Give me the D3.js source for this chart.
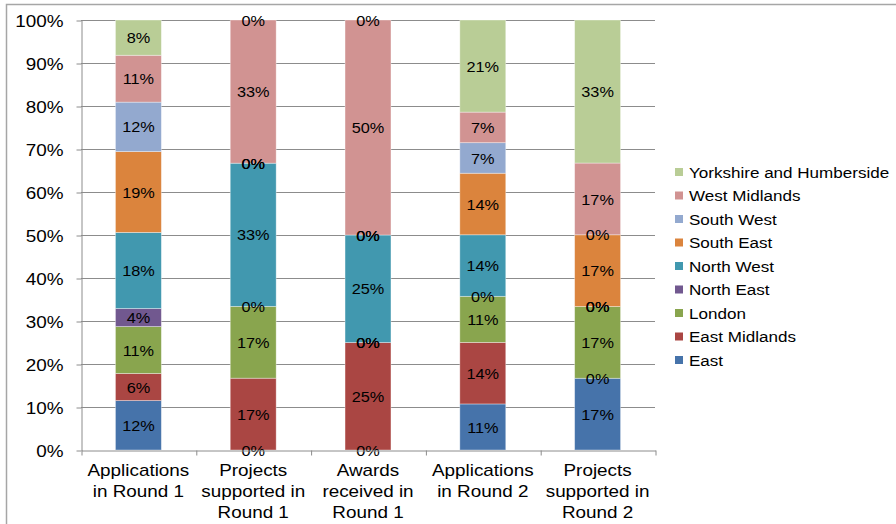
<!DOCTYPE html>
<html>
<head>
<meta charset="utf-8">
<script src="https://cdn.jsdelivr.net/npm/d3@7"></script>
<style>
  html, body { margin: 0; padding: 0; background: #fff; }
  svg { display: block; font-family: "Liberation Sans", Arial, sans-serif; }
</style>
</head>
<body>
<svg id="chart" width="896" height="524"></svg>
<script>
// Categories (multi-line axis labels)
const categories = [
  ["Applications", "in Round 1"],
  ["Projects", "supported in", "Round 1"],
  ["Awards", "received in", "Round 1"],
  ["Applications", "in Round 2"],
  ["Projects", "supported in", "Round 2"]
];

// Share of each category by region, in percent
const regions = ["East", "East Midlands", "London", "North East", "North West",
                 "South East", "South West", "West Midlands", "Yorkshire and Humberside"];
const east          = [11.5, 0,    0,  10.7, 16.7];
const eastMidlands  = [6.3,  16.7, 25, 14.3, 0];
const london        = [10.9, 16.7, 0,  10.7, 16.7];
const northEast     = [4.2,  0,    0,  0,    0];
const northWest     = [17.7, 33.3, 25, 14.3, 0];
const southEast     = [18.8, 0,    0,  14.3, 16.7];
const southWest     = [11.5, 0,    0,  7.1,  0];
const westMidlands  = [10.9, 33.3, 50, 7.1,  16.7];
const yorkshire     = [8.2,  0,    0,  21.4, 33.3];
const seriesValues = [east, eastMidlands, london, northEast, northWest,
                      southEast, southWest, westMidlands, yorkshire];

const yTicks = d3.range(0, 11).map(i => i / 10);

const colors = ["#4673aa", "#aa4643", "#89a54e", "#71588f", "#4198af",
                "#db843d", "#93a9cf", "#d19392", "#b9cd96"];

// Table for d3.stack
const rows = categories.map((c, i) => {
  const r = { idx: i };
  regions.forEach((name, k) => { r[name] = seriesValues[k][i]; });
  return r;
});

const svg = d3.select("#chart");
const W = 896, H = 524;
const plot = { left: 81, right: 655, top: 20, bottom: 450 };

svg.append("rect").attr("width", W).attr("height", H).attr("fill", "#fff");
// outer frame
svg.append("rect")
  .attr("x", 6.5).attr("y", 4.5).attr("width", W + 10).attr("height", H + 10)
  .attr("fill", "none").attr("stroke", "#a6a6a6").attr("stroke-width", 1.5);

const x = d3.scaleBand().domain(d3.range(categories.length))
  .range([plot.left, plot.right]).paddingInner(0.6).paddingOuter(0.3);
const xEdges = d3.scaleLinear().domain([0, categories.length]).range([plot.left, plot.right]);
const y = d3.scaleLinear().domain([0, 1]).range([plot.bottom, plot.top]);

// gridlines
svg.append("g").selectAll("line").data(yTicks.slice(1)).join("line")
  .attr("x1", plot.left).attr("x2", plot.right)
  .attr("y1", d => y(d) + 0.5).attr("y2", d => y(d) + 0.5)
  .attr("stroke", "#8c8c8c").attr("stroke-width", 1);

// y axis
const yAxis = svg.append("g").attr("transform", `translate(${plot.left + 0.5},0.5)`)
  .call(d3.axisLeft(y).tickValues(yTicks).tickFormat(d3.format(".0%")).tickSize(5).tickSizeOuter(0));
yAxis.select(".domain").attr("stroke", "#8c8c8c");
yAxis.selectAll(".tick line").attr("stroke", "#8c8c8c");
yAxis.selectAll(".tick text")
  .attr("x", 0).attr("dy", "0.36em")
  .attr("transform", "translate(-18,0) scale(1.18,1)")
  .attr("font-size", 16).attr("fill", "#000")
  .attr("font-family", "'Liberation Sans', Arial, sans-serif");

// stacked bars
const stack = d3.stack().keys(regions).offset(d3.stackOffsetExpand);
const layers = stack(rows);

const gBars = svg.append("g");
layers.forEach((layer, k) => {
  gBars.append("g").attr("fill", colors[k])
    .selectAll("rect").data(layer).join("rect")
    .attr("x", (d, i) => x(i))
    .attr("width", x.bandwidth())
    .attr("y", d => y(d[1]))
    .attr("height", d => y(d[0]) - y(d[1]))
    .attr("stroke", "rgba(255,255,255,0.45)").attr("stroke-width", 0.8);
});

// data labels
const gLabels = svg.append("g");
layers.forEach((layer, k) => {
  gLabels.append("g").selectAll("text").data(layer).join("text")
    .attr("transform", (d, i) =>
      `translate(${x(i) + x.bandwidth() / 2},${y((d[0] + d[1]) / 2)}) scale(1.05,1)`)
    .attr("text-anchor", "middle").attr("dy", "0.36em")
    .attr("font-size", 15.5).attr("fill", "#000")
    .text((d, i) => Math.round(seriesValues[k][i]) + "%");
});

// x axis line and boundary ticks
const xTickAxis = svg.append("g").attr("transform", `translate(0.5,${plot.bottom + 0.5})`)
  .call(d3.axisBottom(xEdges).ticks(categories.length).tickSize(5).tickSizeOuter(0).tickFormat(""));
xTickAxis.select(".domain").attr("stroke", "#8c8c8c");
xTickAxis.selectAll(".tick line").attr("stroke", "#8c8c8c");

// category labels
const xLabelAxis = svg.append("g").attr("transform", `translate(0,${plot.bottom})`)
  .call(d3.axisBottom(x).tickSize(0).tickFormat(""));
xLabelAxis.select(".domain").remove();
xLabelAxis.selectAll(".tick").each(function (i) {
  const t = d3.select(this).select("text")
    .attr("y", 0).attr("dy", null)
    .attr("transform", "scale(1.18,1)")
    .attr("font-size", 16).attr("fill", "#000")
    .attr("font-family", "'Liberation Sans', Arial, sans-serif");
  categories[i].forEach((line, j) => {
    t.append("tspan").attr("x", 0).attr("y", 26.5 + j * 20.8).text(line);
  });
});

// legend (top to bottom: last series first)
const legend = svg.append("g");
regions.slice().reverse().forEach((name, j) => {
  const k = regions.length - 1 - j;
  const cy = 172 + j * 23.5;
  legend.append("rect").attr("x", 675).attr("y", cy - 4).attr("width", 8).attr("height", 8)
    .attr("fill", colors[k]);
  legend.append("text")
    .attr("transform", `translate(689,${cy}) scale(1.1,1)`)
    .attr("dy", "0.36em").attr("font-size", 15.5).attr("fill", "#000")
    .text(name);
});
</script>
</body>
</html>
